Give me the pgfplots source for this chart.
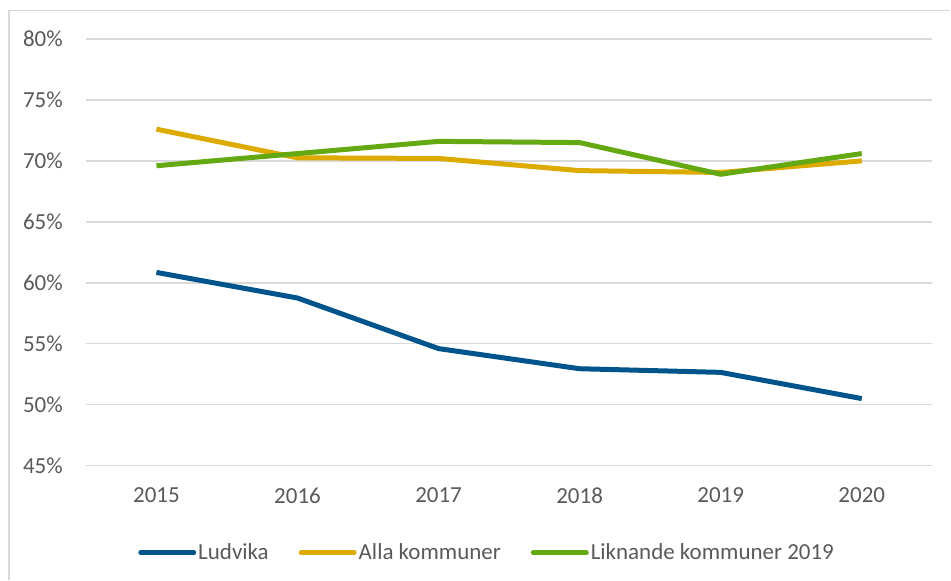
\documentclass[border=0pt]{standalone}
\usepackage{pgfplots}
\pgfplotsset{compat=1.18}
\usepackage{fontspec}
\setmainfont{Carlito}
\definecolor{ludv}{RGB}{0,84,140}
\definecolor{alla}{RGB}{221,170,0}
\definecolor{likn}{RGB}{100,168,18}
\definecolor{gridc}{RGB}{217,217,217}
\definecolor{txt}{RGB}{89,89,89}
\begin{document}
\begin{tikzpicture}[x=1pt,y=1pt]
\path (0,0) rectangle (951,580);
\draw[gridc, line width=1.5pt] (9,0) -- (9,569.3) -- (951,569.3);
\begin{axis}[
    at={(86pt,114pt)}, anchor=south west,
    scale only axis,
    width=847pt, height=427pt,
    xmin=-0.5, xmax=5.5,
    ymin=45, ymax=80,
    xtick={0,...,5},
    xticklabels={2015,2016,2017,2018,2019,2020},
    ytick={45,50,...,80},
    yticklabel={\pgfmathprintnumber{\tick}\%},
    /pgf/number format/assume math mode=true,
    axis line style={draw=none},
    major tick length=0pt,
    ymajorgrids,
    grid style={gridc, line width=1.5pt},
    tick label style={font=\fontsize{23}{28}\selectfont, text=txt, inner sep=0pt},
    y tick label style={anchor=east, xshift=-23pt},
    x tick label style={anchor=north, yshift=-22pt},
    legend style={at={(0.474,-0.204)}, anchor=center, draw=none, fill=none,
        font=\fontsize{23}{28}\selectfont, text=txt,
        /tikz/every even column/.append style={column sep=28pt}},
    legend columns=3,
    legend cell align=left,
    legend image code/.code={\draw[#1, line cap=round] (0pt,0pt) -- (53pt,0pt);},
    every axis plot/.append style={line width=5pt, line join=round},
]
\addplot[ludv] coordinates {(0,60.85) (1,58.75) (2,54.6) (3,52.95) (4,52.65) (5,50.5)};
\addplot[alla] coordinates {(0,72.6) (1,70.25) (2,70.2) (3,69.2) (4,69.05) (5,70.0)};
\addplot[likn] coordinates {(0,69.6) (1,70.6) (2,71.6) (3,71.5) (4,68.9) (5,70.6)};
\legend{Ludvika, Alla kommuner, Liknande kommuner 2019}
\end{axis}
\end{tikzpicture}
\end{document}
